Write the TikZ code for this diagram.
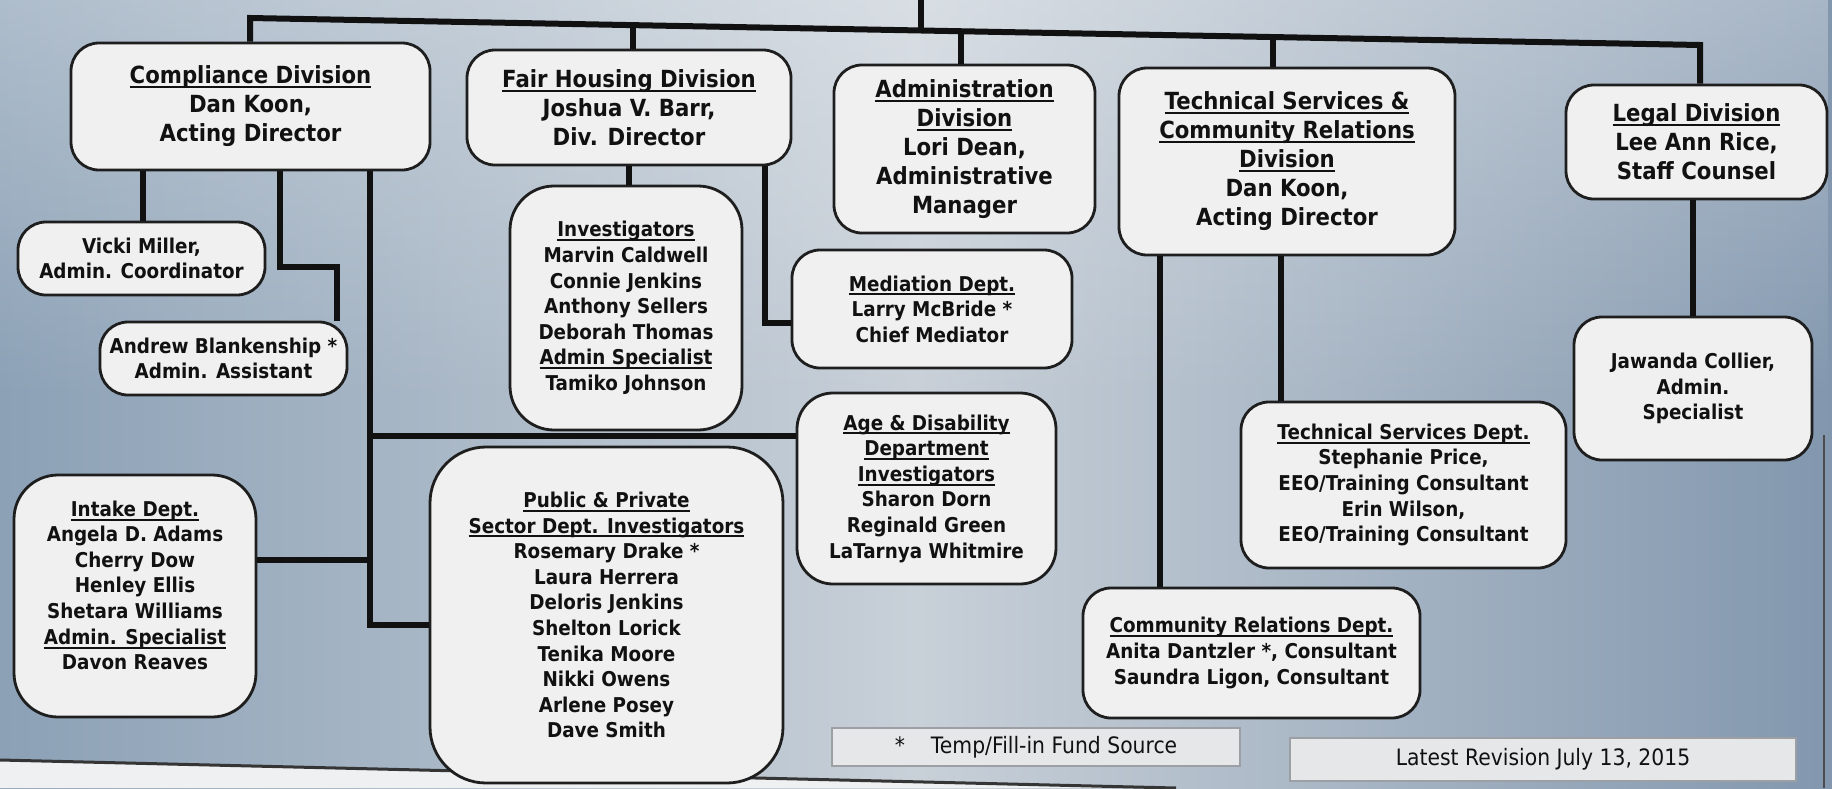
\documentclass[tikz,border=0pt]{standalone}
\usepackage{fontspec}
\usetikzlibrary{fadings}
\newfontfamily\dvs{DejaVu Sans}[FakeStretch=0.9]
\definecolor{bgL}{HTML}{8CA1B6}
\definecolor{bgM}{HTML}{C8D0D8}
\definecolor{bgR}{HTML}{8297AE}
\definecolor{boxfill}{HTML}{F0F0F0}
\definecolor{boxline}{HTML}{1E1E1E}
\definecolor{ink}{HTML}{111111}
\definecolor{notefill}{HTML}{E6E7E8}
\definecolor{noteline}{HTML}{9C9FA3}
\definecolor{paperedge}{HTML}{EEF0F2}
\tikzfading[name=fadetop, top color=transparent!0, bottom color=transparent!100]
\newcommand{\ulb}[1]{\setbox0\hbox{#1}\rlap{\rule[-2.2pt]{\wd0}{1pt}}\box0}
\begin{document}
\begin{tikzpicture}[x=0.5pt,y=-0.5pt,
  box/.style={draw=boxline, fill=boxfill, line width=1.4pt, rounded corners=14pt,
    align=center, inner sep=0pt, text=ink,
    font=\dvs\bfseries\fontsize{10.2}{12.8}\selectfont},
  div/.style={box, font=\dvs\bfseries\fontsize{11.8}{14.5}\selectfont},
  bigbox/.style={box, rounded corners=22pt},
  notebox/.style={draw=noteline, fill=notefill, line width=0.8pt, inner sep=0pt,
    text=ink, font=\dvs\fontsize{11.3}{13}\selectfont},
  wire/.style={draw=ink, line width=3pt, line join=miter}]
\useasboundingbox (0,0) rectangle (1832,788);
% background
\shade[left color=bgL, right color=bgR, middle color=bgM] (0,0) rectangle (1832,788);
\fill[white, opacity=0.3, path fading=fadetop] (0,0) rectangle (1832,400);
\fill[paperedge] (0,760) -- (1176,788) -- (0,788) -- cycle;
\draw[color=ink!85, line width=1.5pt] (0,760) -- (1176,788);
\draw[color=boxline!80, line width=1pt] (1824,435) -- (1824,788);

% division boxes
\node[div, minimum width=179.5pt, minimum height=63.5pt] (comp) at (250.5,106.5)
  {\ulb{Compliance Division}\\Dan Koon,\\Acting Director};
\node[div, minimum width=162pt, minimum height=57.5pt] (fh) at (629,107.5)
  {\ulb{Fair Housing Division}\\Joshua V. Barr,\\Div. Director};
\node[div, minimum width=130.5pt, minimum height=84pt] (adm) at (964.5,149)
  {\ulb{Administration}\\\ulb{Division}\\Lori Dean,\\Administrative\\Manager};
\node[div, minimum width=168pt, minimum height=93.5pt] (tech) at (1287,161.5)
  {\ulb{Technical Services \&}\\\ulb{Community Relations}\\\ulb{Division}\\Dan Koon,\\Acting Director};
\node[div, minimum width=130.5pt, minimum height=57pt] (legal) at (1696.5,142)
  {\ulb{Legal Division}\\Lee Ann Rice,\\Staff Counsel};

% lower boxes
\node[box, minimum width=123.5pt, minimum height=36.5pt] (vicki) at (141.5,258.5)
  {Vicki Miller,\\Admin. Coordinator};
\node[box, minimum width=123.5pt, minimum height=36.5pt] (andrew) at (223.5,358.5)
  {Andrew Blankenship *\\Admin. Assistant};
\node[bigbox, minimum width=116pt, minimum height=122pt] (inv) at (626,308)
  {\ulb{Investigators}\\Marvin Caldwell\\Connie Jenkins\\Anthony Sellers\\Deborah Thomas\\\ulb{Admin Specialist}\\Tamiko Johnson};
\node[box, minimum width=140pt, minimum height=59pt] (med) at (932,309)
  {\ulb{Mediation Dept.}\\Larry McBride *\\Chief Mediator};
\node[box, rounded corners=18pt, minimum width=129.5pt, minimum height=95.5pt] (age) at (926.5,488.5)
  {\ulb{Age \& Disability}\\\ulb{Department}\\\ulb{Investigators}\\Sharon Dorn\\Reginald Green\\LaTarnya Whitmire};
\node[bigbox, rounded corners=28pt, minimum width=176.5pt, minimum height=168pt] (pub) at (606.5,615)
  {\ulb{Public \& Private}\\\ulb{Sector Dept. Investigators}\\Rosemary Drake *\\Laura Herrera\\Deloris Jenkins\\Shelton Lorick\\Tenika Moore\\Nikki Owens\\Arlene Posey\\Dave Smith};
\node[bigbox, minimum width=121pt, minimum height=121pt] (intake) at (135,596)
  {\ulb{Intake Dept.}\\Angela D. Adams\\Cherry Dow\\Henley Ellis\\Shetara Williams\\\ulb{Admin. Specialist}\\Davon Reaves\\[-2pt]\mbox{}};
\node[box, minimum width=162.5pt, minimum height=83pt] (tdept) at (1403.5,485)
  {\ulb{Technical Services Dept.}\\Stephanie Price,\\EEO/Training Consultant\\Erin Wilson,\\EEO/Training Consultant};
\node[box, minimum width=168.5pt, minimum height=65pt] (comm) at (1251.5,653)
  {\ulb{Community Relations Dept.}\\Anita Dantzler *, Consultant\\Saundra Ligon, Consultant};
\node[box, minimum width=119pt, minimum height=71.5pt] (jaw) at (1693,388.5)
  {Jawanda Collier,\\Admin.\\Specialist};

% notes
\node[notebox, minimum width=204pt, minimum height=19pt] (temp) at (1036,747)
  {*\hspace{13pt}Temp/Fill-in Fund Source\hspace{10pt}};
\node[notebox, minimum width=253pt, minimum height=21.5pt] (latest) at (1543,759.5)
  {Latest Revision July 13, 2015};

% top bar
\coordinate (top) at (921,0);
\coordinate (b0) at (921,30.5);
\coordinate (b1) at (250,18);
\coordinate (b2) at (633,25.1);
\coordinate (b3) at (961,31.2);
\coordinate (b4) at (1273,37.05);
\coordinate (b5) at (1700,45);
\draw[wire] (top) -- (b0);
\draw[wire] (b1 |- comp.north) -- (b1) -- (b5) -- (b5 |- legal.north);
\draw[wire] (b2) -- (b2 |- fh.north);
\draw[wire] (b3) -- (b3 |- adm.north);
\draw[wire] (b4) -- (b4 |- tech.north);

% compliance branches
\coordinate (vc) at (143,200);
\draw[wire] (comp.south -| vc) -- (vc |- vicki.north);
\coordinate (a1) at (280,267);
\coordinate (a2) at (337,267);
\draw[wire] (comp.south -| a1) -- (a1) -- (a2) -- (a2 |- andrew.north);
\coordinate (ka) at (370,436);
\coordinate (ki) at (370,560);
\coordinate (kp) at (370,625);
\draw[wire] (comp.south -| kp) -- (kp) -- (kp -| pub.west);
\draw[wire] (ka) -- (ka -| age.west);
\draw[wire] (ki) -- (ki -| intake.east);

% fair housing branches
\draw[wire] (fh.south) -- (fh.south |- inv.north);
\coordinate (m1) at (765,323);
\draw[wire] (fh.south -| m1) -- (m1) -- (m1 -| med.west);

% technical services branches
\coordinate (t1) at (1160,300);
\coordinate (t2) at (1281,300);
\draw[wire] (tech.south -| t1) -- (t1 |- comm.north);
\draw[wire] (tech.south -| t2) -- (t2 |- tdept.north);

% legal branch
\draw[wire] (jaw.north |- legal.south) -- (jaw.north);
\end{tikzpicture}
\end{document}
